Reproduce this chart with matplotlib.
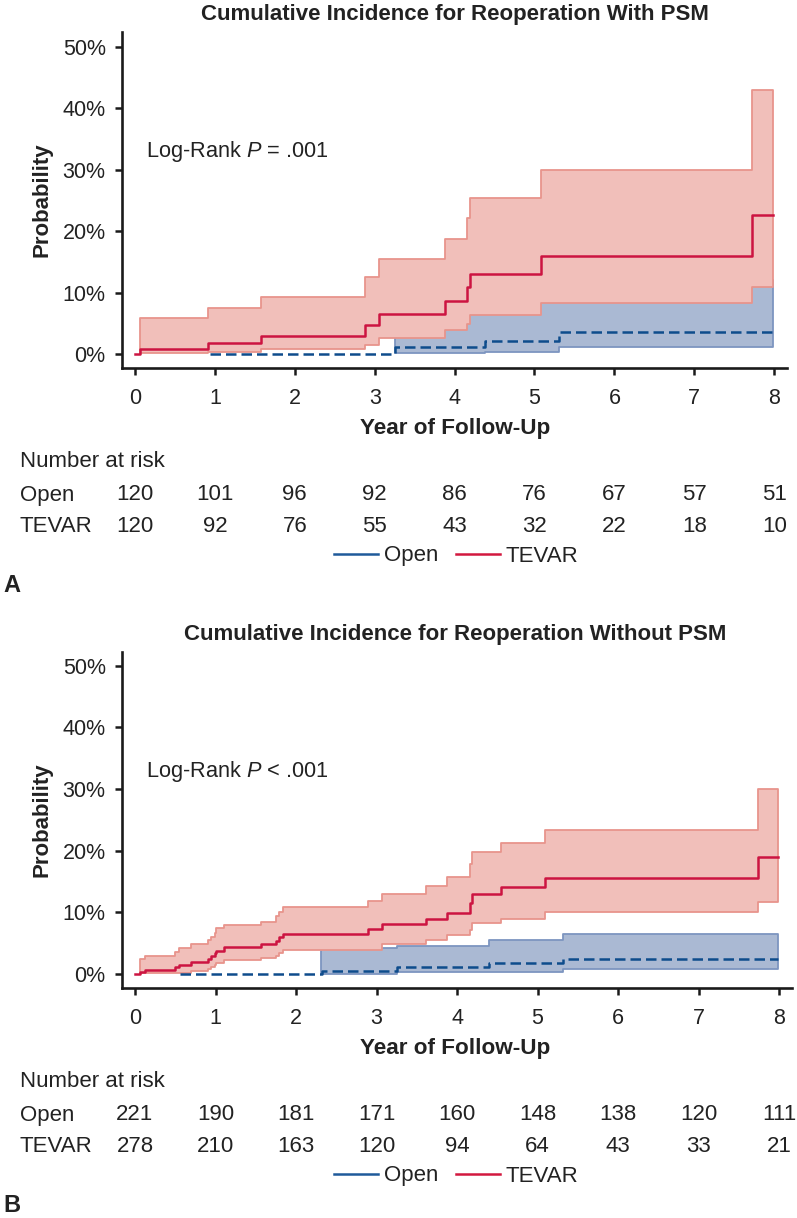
import matplotlib
matplotlib.use('Agg')
import matplotlib.pyplot as plt
from matplotlib.lines import Line2D
from matplotlib.ticker import FuncFormatter, FixedLocator
from matplotlib.transforms import blended_transform_factory

plt.rcParams['font.family'] = ['Liberation Sans', 'DejaVu Sans']
plt.rcParams['mathtext.fontset'] = 'custom'
plt.rcParams['mathtext.it'] = 'Liberation Sans:italic'
plt.rcParams['mathtext.rm'] = 'Liberation Sans'

# ---------------- data ----------------
years = [0, 1, 2, 3, 4, 5, 6, 7, 8]
yticks = [0, 10, 20, 30, 40, 50]

# Panel A (with PSM)
A_tevar_t = [0, 0.063, 0.92, 1.58, 2.88, 3.05, 3.875, 4.15, 4.19, 5.08, 7.72, 7.98]
A_tevar_est = [0, 0.81, 1.89, 2.98, 4.76, 6.55, 8.72, 10.9, 13.06, 16.0, 22.6, 22.6]
A_tevar_bt = [0.063, 0.92, 1.58, 2.88, 3.05, 3.875, 4.15, 4.19, 5.08, 7.72, 7.98]
A_tevar_lo = [0.2, 0.4, 0.8, 1.5, 2.6, 3.9, 5.0, 6.4, 8.3, 11.0, 11.0]
A_tevar_hi = [5.95, 7.48, 9.37, 12.6, 15.5, 18.7, 22.1, 25.4, 30.0, 42.9, 42.9]
A_open_t = [0.94, 3.26, 4.38, 5.31, 7.98]
A_open_est = [0, 1.14, 2.2, 3.58, 3.58]
A_open_bt = [3.26, 4.38, 5.31, 7.98]
A_open_lo = [0.16, 0.42, 1.14, 1.14]
A_open_hi = [7.0, 9.0, 12.0, 12.0]
A_risk_open = [120, 101, 96, 92, 86, 76, 67, 57, 51]
A_risk_tevar = [120, 92, 76, 55, 43, 32, 22, 18, 10]

# Panel B (without PSM)
B_tevar_t = [0, 0.062, 0.124, 0.50, 0.55, 0.69, 0.91, 0.94, 0.99, 1.01, 1.11, 1.57, 1.75,
             1.79, 1.84, 2.89, 3.07, 3.61, 3.88, 4.16, 4.19, 4.54, 5.09, 7.74, 7.99]
B_tevar_est = [0, 0.27, 0.65, 1.08, 1.46, 2.0, 2.43, 2.97, 3.46, 3.78, 4.32, 4.86, 5.4,
               5.95, 6.49, 7.24, 8.1, 8.87, 9.9, 11.5, 13.0, 14.06, 15.5, 18.9, 18.9]
B_tevar_bt = [0.062, 0.124, 0.50, 0.55, 0.69, 0.91, 0.94, 0.99, 1.01, 1.11, 1.57, 1.75,
              1.79, 1.84, 2.89, 3.07, 3.61, 3.88, 4.16, 4.19, 4.54, 5.09, 7.74, 7.99]
B_tevar_lo = [0.1, 0.1, 0.2, 0.2, 0.5, 0.76, 1.08, 1.46, 1.84, 2.27, 2.54, 2.92,
              3.35, 3.85, 3.95, 4.86, 5.5, 6.25, 7.2, 8.3, 9.0, 10.1, 11.6, 11.6]
B_tevar_hi = [2.5, 2.97, 3.5, 4.2, 4.86, 5.5, 6.05, 6.6, 7.4, 7.95, 8.5, 9.4,
              10.1, 10.8, 11.9, 13.0, 14.3, 15.7, 17.8, 19.8, 21.3, 23.35, 29.95, 29.95]
B_open_t = [0.56, 2.32, 3.26, 4.40, 5.32, 7.99]
B_open_est = [0, 0.54, 1.08, 1.84, 2.43, 2.43]
B_open_bt = [2.31, 3.26, 4.40, 5.32, 7.99]
B_open_lo = [0.0, 0.25, 0.3, 0.8, 0.8]
B_open_hi = [4.2, 4.54, 5.5, 6.49, 6.49]
B_risk_open = [221, 190, 181, 171, 160, 148, 138, 120, 111]
B_risk_tevar = [278, 210, 163, 120, 94, 64, 43, 33, 21]

# ---------------- style ----------------
W, H, DPI = 797, 1218, 100
TXT = '#222222'
RED = '#CC1441'
BLUE = '#0E4C8C'
PINK_F, PINK_E = '#F1BFBA', '#E8948C'
BLUE_F, BLUE_E = '#AAB9D3', '#7D95C0'

fig = plt.figure(figsize=(W / DPI, H / DPI), dpi=DPI)


def fx(px):
    return px / W


def fy(py):
    return 1 - py / H


def draw_panel(y0, ax_right, xlim, ylim, title, ptxt, tt, te, tbt, tlo, thi,
               ot, oe, obt, olo, ohi, r_open, r_tevar, letter):
    left, top, bot = 121.7, y0 + 31.7, y0 + 368.3
    ax = fig.add_axes([fx(left), fy(bot), (ax_right - left) / W, (bot - top) / H])
    ax.set_xlim(*xlim)
    ax.set_ylim(*ylim)
    for s in ['top', 'right']:
        ax.spines[s].set_visible(False)
    for s in ['left', 'bottom']:
        ax.spines[s].set_linewidth(1.9)
        ax.spines[s].set_color('#1a1a1a')
    ax.xaxis.set_major_locator(FixedLocator(years))
    ax.yaxis.set_major_locator(FixedLocator(yticks))
    ax.yaxis.set_major_formatter(FuncFormatter(lambda v, p: f'{v:.0f}%'))
    ax.tick_params(axis='both', direction='out', length=5, width=1.8,
                   color='#1a1a1a', labelcolor=TXT, labelsize=15.5)
    ax.tick_params(axis='x', pad=9)
    ax.tick_params(axis='y', pad=6.5)

    # bands
    ax.fill_between(obt, olo, ohi, step='post', facecolor=BLUE_F,
                    edgecolor=BLUE_E, linewidth=1.3, zorder=1)
    ax.fill_between(tbt, tlo, thi, step='post', facecolor=PINK_F,
                    edgecolor=PINK_E, linewidth=1.3, zorder=2)
    # curves
    ax.step(ot, oe, where='post', color=BLUE, lw=1.8, ls=(0, (4.2, 2.0)),
            zorder=4)
    ax.step(tt, te, where='post', color=RED, lw=1.8, zorder=5)

    cx = 455
    fig.text(fx(cx), fy(y0 + 20), title, ha='center', va='baseline',
             fontsize=16, fontweight='bold', color=TXT)
    fig.text(fx(146.5), fy(y0 + 156.7), ptxt, ha='left', va='baseline',
             fontsize=15.7, color=TXT)
    fig.text(fx(42.5), fy(y0 + 200), 'Probability', rotation=90, ha='center',
             va='center', fontsize=16, fontweight='bold', color=TXT)
    fig.text(fx(cx), fy(y0 + 434), 'Year of Follow-Up', ha='center',
             va='baseline', fontsize=16.2, fontweight='bold', color=TXT)

    tr = blended_transform_factory(ax.transData, fig.transFigure)
    fig.text(fx(20), fy(y0 + 467), 'Number at risk', ha='left', va='baseline',
             fontsize=16, color=TXT)
    fig.text(fx(20), fy(y0 + 500.5), 'Open', ha='left', va='baseline',
             fontsize=16, color=TXT)
    fig.text(fx(20), fy(y0 + 532.5), 'TEVAR', ha='left', va='baseline',
             fontsize=16, color=TXT)
    for yr, a, b in zip(years, r_open, r_tevar):
        fig.text(yr, fy(y0 + 500.5), str(a), transform=tr, ha='center',
                 va='baseline', fontsize=16, color=TXT)
        fig.text(yr, fy(y0 + 532.5), str(b), transform=tr, ha='center',
                 va='baseline', fontsize=16, color=TXT)

    handles = [Line2D([], [], color='#1F5A9A', lw=1.8),
               Line2D([], [], color='#D2183F', lw=1.8)]
    fig.legend(handles, ['Open', 'TEVAR'], loc='center',
               bbox_to_anchor=(fx(456), fy(y0 + 556)), ncol=2, frameon=False,
               fontsize=16, handlelength=2.0, handletextpad=0.25,
               columnspacing=0.8, labelcolor=TXT, borderpad=0)

    fig.text(fx(3), fy(y0 + 591.7), letter, ha='left', va='baseline',
             fontsize=17, fontweight='bold', color=TXT)
    return ax


draw_panel(0, 787, (-0.166, 8.16), (-2.28, 52.46),
           'Cumulative Incidence for Reoperation With PSM',
           r'Log-Rank $P$ = .001',
           A_tevar_t, A_tevar_est, A_tevar_bt, A_tevar_lo, A_tevar_hi,
           A_open_t, A_open_est, A_open_bt, A_open_lo, A_open_hi,
           A_risk_open, A_risk_tevar, 'A')

draw_panel(620, 792, (-0.165, 8.16), (-2.32, 52.27),
           'Cumulative Incidence for Reoperation Without PSM',
           r'Log-Rank $P$ < .001',
           B_tevar_t, B_tevar_est, B_tevar_bt, B_tevar_lo, B_tevar_hi,
           B_open_t, B_open_est, B_open_bt, B_open_lo, B_open_hi,
           B_risk_open, B_risk_tevar, 'B')

fig.savefig('out.png', dpi=DPI)
